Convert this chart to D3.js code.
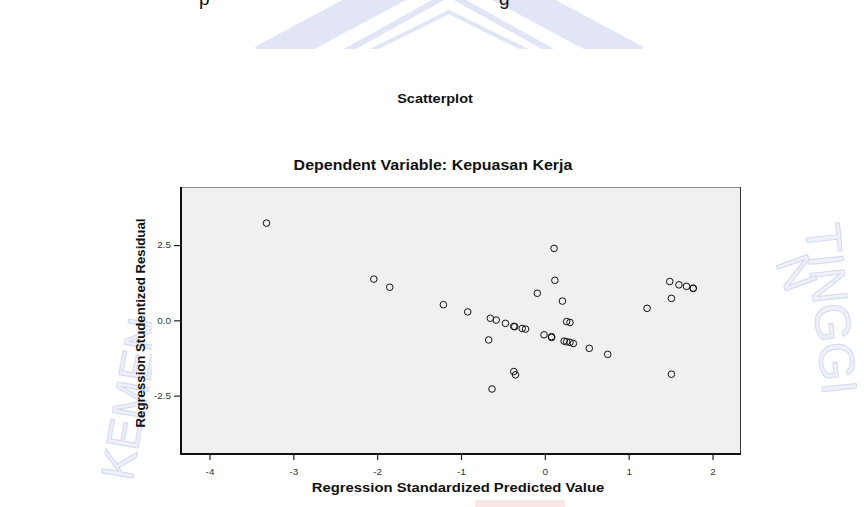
<!DOCTYPE html>
<html>
<head>
<meta charset="utf-8">
<script src="https://cdn.jsdelivr.net/npm/d3@7"></script>
<style>
body { margin: 0; background: #fff; }
text { font-family: Arial, "Liberation Sans", sans-serif; }
</style>
</head>
<body>
<div id="chart"></div>
<script>
// data
var predicted = [-3.32, -2.04, -1.85, -1.21, -0.92, 0.11, 0.12, -0.09, 0.21, 1.49,
  1.60, 1.69, 1.77, 1.77, 1.51, 1.22, -0.65, -0.58, -0.47, -0.37,
  -0.36, -0.27, -0.23, 0.26, 0.30, -0.67, -0.01, 0.08, 0.08, 0.23,
  0.26, 0.30, 0.34, 0.53, 0.75, -0.37, -0.35, 1.51, -0.63];
var residual = [3.23, 1.37, 1.10, 0.52, 0.28, 2.39, 1.33, 0.90, 0.64, 1.29,
  1.18, 1.13, 1.07, 1.06, 0.73, 0.40, 0.07, 0.01, -0.10, -0.20,
  -0.21, -0.27, -0.29, -0.04, -0.07, -0.65, -0.48, -0.54, -0.57, -0.69,
  -0.71, -0.73, -0.77, -0.93, -1.13, -1.70, -1.81, -1.79, -2.28];
var xTicks = [-4, -3, -2, -1, 0, 1, 2];
var yTicks = [-2.5, 0, 2.5];

var W = 864, H = 507;
var stretch = 1.15; // the chart picture is stretched sideways

var svg = d3.select("#chart").append("svg")
    .attr("width", W)
    .attr("height", H);

// faint watermark behind the chart
var wm = svg.append("g").attr("fill", "none").attr("stroke", "#e1e5f6");
wm.append("polyline")
    .attr("points", "262,60 449,-40 636,60")
    .attr("stroke-width", 30);
wm.append("polyline")
    .attr("points", "330,60 449,-6 568,60")
    .attr("stroke-width", 6);
wm.append("polyline")
    .attr("points", "352,60 449,12 546,60")
    .attr("stroke-width", 4);
svg.append("text")
    .attr("transform", "translate(132,482) rotate(-80)")
    .attr("font-size", 46).attr("fill", "#eef0fa").attr("stroke", "#d3d9f0")
    .text("KEMEN");
svg.append("text")
    .attr("transform", "translate(805,225) rotate(84)")
    .attr("font-size", 50).attr("fill", "#eef0fa").attr("stroke", "#d3d9f0")
    .text("TINGGI");
svg.append("text")
    .attr("transform", "translate(775,262) rotate(70)")
    .attr("font-size", 48).attr("fill", "#eef0fa").attr("stroke", "#d3d9f0")
    .text("N");

// bottom of the line of page text above the chart
svg.append("text").attr("x", 199).attr("y", 5)
    .attr("font-family", "'Liberation Serif', 'Times New Roman', serif")
    .attr("font-size", 19).attr("fill", "#111").text("p");
svg.append("text").attr("x", 499).attr("y", 5)
    .attr("font-family", "'Liberation Serif', 'Times New Roman', serif")
    .attr("font-size", 19).attr("fill", "#111").text("g");

// white chart picture
svg.append("rect")
    .attr("x", 152).attr("y", 49)
    .attr("width", 608).attr("height", H - 49)
    .attr("fill", "#fff");
svg.append("rect")
    .attr("x", 475).attr("y", 500)
    .attr("width", 90).attr("height", 7)
    .attr("fill", "#fae8e8");

var plotLeft = 181, plotRight = 741, plotTop = 187, plotBottom = 454;

var x = d3.scaleLinear().domain([-4.34, 2.34]).range([plotLeft, plotRight]);
var y = d3.scaleLinear().domain([-4.44, 4.43]).range([plotBottom, plotTop]);

function label(px, py, size, str) {
  svg.append("g")
      .attr("transform", "translate(" + px + "," + py + ") scale(" + stretch + ",1)")
    .append("text")
      .attr("text-anchor", "middle")
      .attr("font-size", size)
      .attr("font-weight", "bold")
      .attr("fill", "#111")
      .text(str);
}

label(435, 103, 12.6, "Scatterplot");
label(433, 170, 13.9, "Dependent Variable: Kepuasan Kerja");

// plot background
svg.append("rect")
    .attr("x", plotLeft).attr("y", plotTop)
    .attr("width", plotRight - plotLeft).attr("height", plotBottom - plotTop)
    .attr("fill", "#f0f0f0");

// plain hyphen minus, as in the picture
function hyphen(f) {
  return function(d) { return f(d).replace("\u2212", "-"); };
}

// Add the X Axis
var xAxis = svg.append("g")
    .attr("transform", "translate(0," + plotBottom + ")")
    .call(d3.axisBottom(x).tickValues(xTicks).tickSize(6).tickPadding(5).tickFormat(hyphen(d3.format("d"))));
xAxis.select(".domain").remove();

// Add the Y Axis
var yAxis = svg.append("g")
    .attr("transform", "translate(" + plotLeft + ",0)")
    .call(d3.axisLeft(y).tickValues(yTicks).tickSize(7).tickPadding(3).tickFormat(hyphen(d3.format(".1f"))));
yAxis.select(".domain").remove();

svg.selectAll(".tick line").attr("stroke", "#222").attr("stroke-width", 1.2);
svg.selectAll(".tick text")
    .attr("font-size", 8.6)
    .attr("fill", "#333")
    .attr("font-family", "Arial, 'Liberation Sans', sans-serif");
// stretch tick labels like the rest of the picture
xAxis.selectAll(".tick text").attr("transform", "translate(0,4) scale(" + stretch + ",1)")
    .attr("x", 0);
yAxis.selectAll(".tick text")
    .attr("transform", "translate(-10,0) scale(" + stretch + ",1)")
    .attr("x", 0);

// frame
svg.append("line").attr("x1", plotLeft).attr("x2", plotRight).attr("y1", plotTop + 0.5).attr("y2", plotTop + 0.5)
    .attr("stroke", "#8a8a8a").attr("stroke-width", 1);
svg.append("line").attr("x1", plotRight - 0.5).attr("x2", plotRight - 0.5).attr("y1", plotTop).attr("y2", plotBottom)
    .attr("stroke", "#333").attr("stroke-width", 1);
svg.append("line").attr("x1", plotLeft).attr("x2", plotLeft).attr("y1", plotTop).attr("y2", plotBottom + 1)
    .attr("stroke", "#111").attr("stroke-width", 2);
svg.append("line").attr("x1", plotLeft - 1).attr("x2", plotRight).attr("y1", plotBottom).attr("y2", plotBottom)
    .attr("stroke", "#111").attr("stroke-width", 2);

// axis titles
label(458, 492, 12.9, "Regression Standardized Predicted Value");
svg.append("text")
    .attr("transform", "translate(145,323) rotate(-90)")
    .attr("text-anchor", "middle")
    .attr("font-size", 13.2)
    .attr("font-weight", "bold")
    .attr("fill", "#111")
    .text("Regression Studentized Residual");

// Add the scatterplot
svg.selectAll("circle.pt")
    .data(predicted)
  .enter().append("circle")
    .attr("class", "pt")
    .attr("r", 3.3)
    .attr("cx", function(d) { return x(d); })
    .attr("cy", function(d, i) { return y(residual[i]); })
    .attr("fill", "none")
    .attr("stroke", "#111")
    .attr("stroke-width", 1);
</script>
</body>
</html>
